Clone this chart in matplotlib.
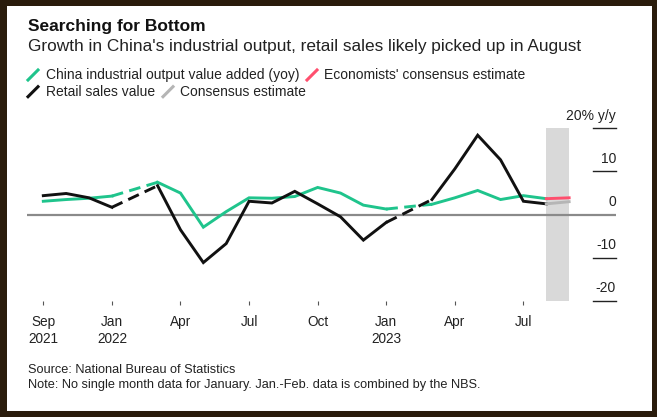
import numpy as np
import pandas as pd
import matplotlib
matplotlib.use("Agg")
import matplotlib.pyplot as plt
from matplotlib.lines import Line2D
from matplotlib.patches import Rectangle
import matplotlib.transforms as mtransforms

plt.rcParams["font.family"] = ["Liberation Sans", "DejaVu Sans"]

# --------------------------------------------------------------------
# Data (yoy %, Sep 2021 .. Aug 2023; January has no single-month print)
# --------------------------------------------------------------------
months = pd.period_range("2021-09", "2023-08", freq="M").strftime("%b %Y").tolist()

industrial = [3.1, 3.5, 3.8, 4.3, None, 7.5, 5.0, -2.9, 0.7, 3.9, 3.8, 4.2,
              6.3, 5.0, 2.2, 1.3, None, 2.4, 3.9, 5.6, 3.5, 4.4, 3.7, None]
retail = [4.4, 4.9, 3.9, 1.7, None, 6.7, -3.5, -11.1, -6.7, 3.1, 2.7, 5.4,
          2.5, -0.5, -5.9, -1.8, None, 3.5, 10.6, 18.4, 12.7, 3.1, 2.5, None]

# August 2023 consensus estimates
industrial_est = 3.9
retail_est = 3.0

yticks = [20, 10, 0, -10, -20]
ytick_labels = ["20% y/y", "10", "0", "-10", "-20"]
xtick_labels = ["Sep\n2021", "Jan\n2022", "Apr", "Jul", "Oct", "Jan\n2023", "Apr", "Jul"]

GREEN = "#1fc48c"
BLACK = "#111111"
RED = "#ff4f6e"
GREY_EST = "#b5b5b5"
BAND = "#d9d9d9"
FRAME = "#2a1c0c"

W, H = 657, 417
fx = lambda x: x / W
fy = lambda y: 1 - y / H

# --------------------------------------------------------------------
fig = plt.figure(figsize=(W / 100, H / 100), dpi=100)
fig.patch.set_facecolor(FRAME)
fig.patches.append(Rectangle((fx(7), fy(410.7)), fx(651.7) - fx(7), fy(6) - fy(410.7),
                             transform=fig.transFigure, facecolor="white",
                             edgecolor="none", zorder=-5))

ax = fig.add_axes([fx(27.3), fy(301), fx(616) - fx(27.3), fy(128.3) - fy(301)])
ax.set_facecolor("none")
ax.set_zorder(2)
ax.set_xlim(-0.70, 25.05)
ax.set_ylim(-20, 20)
for s in ax.spines.values():
    s.set_visible(False)

x = np.arange(len(months))
n_obs = len(months) - 1  # last month is the forecast


def draw_series(vals, color):
    v = pd.Series(vals[:n_obs], dtype=float)
    ax.plot(x[:n_obs], v, color=color, lw=2.1, solid_joinstyle="miter", zorder=3)
    # dashed bridge across missing January prints
    for i in np.where(v.isna())[0]:
        ax.plot([i - 1, i + 1], [v[i - 1], v[i + 1]], color=color, lw=2.1,
                dashes=(4, 2.2), zorder=3)
    return v


ind = draw_series(industrial, GREEN)
ret = draw_series(retail, BLACK)

# forecast band + estimate segments
ax.axvspan(n_obs - 1, n_obs, color=BAND, lw=0, zorder=1)
ax.plot([n_obs - 1, n_obs], [ret.iloc[-1], retail_est], color=GREY_EST, lw=2.1, zorder=3)
ax.plot([n_obs - 1, n_obs], [ind.iloc[-1], industrial_est], color=RED, lw=2.1, zorder=3)

# zero line
ax.axhline(0, color="#8a8a8a", lw=1.6, zorder=2)

# right-hand y ticks drawn as short rules with labels above
x0 = (593 - 27.3) / (616 - 27.3)
trans = mtransforms.blended_transform_factory(ax.transAxes, ax.transData)
for yv, lab in zip(yticks, ytick_labels):
    if yv != 0:
        ax.plot([x0, 1.0], [yv, yv], color="#222222", lw=1.0, transform=trans,
                clip_on=False, zorder=2)
    ax.annotate(lab, xy=(1.0, yv), xycoords=trans, xytext=(0, 4),
                textcoords="offset points", ha="right", va="bottom",
                fontsize=10, color="#222222")

ax.set_yticks([])
ax.set_xticks([0, 3, 6, 9, 12, 15, 18, 21])
ax.set_xticklabels(xtick_labels, fontsize=9.8, color="#222222", linespacing=1.25)
ax.tick_params(axis="x", length=3, width=0.8, color="#555555", pad=7)

# --------------------------------------------------------------------
# Titles, legend, footnotes
# --------------------------------------------------------------------
fig.text(fx(28), fy(26.7), "Searching for Bottom", fontsize=12.5, fontweight="bold",
         color="#111111", va="center")
fig.text(fx(28), fy(47), "Growth in China's industrial output, retail sales likely picked up in August",
         fontsize=12.4, color="#222222", va="center")

legend_items = [
    (28, 75, GREEN, "China industrial output value added (yoy)"),
    (307, 75, RED, "Economists' consensus estimate"),
    (28, 91.7, BLACK, "Retail sales value"),
    (163, 91.7, GREY_EST, "Consensus estimate"),
]
for lx, ly, col, lab in legend_items:
    fig.add_artist(Line2D([fx(lx), fx(lx + 10)], [fy(ly + 5), fy(ly - 5)],
                          color=col, lw=2.2, transform=fig.transFigure))
    fig.text(fx(lx + 17.5), fy(ly), lab, fontsize=10, color="#222222", va="center")

fig.text(fx(28), fy(370), "Source: National Bureau of Statistics",
         fontsize=9.2, color="#222222", va="center")
fig.text(fx(28), fy(385),
         "Note: No single month data for January. Jan.-Feb. data is combined by the NBS.",
         fontsize=9.2, color="#222222", va="center")

fig.savefig("out.png", dpi=100, facecolor=fig.get_facecolor())
